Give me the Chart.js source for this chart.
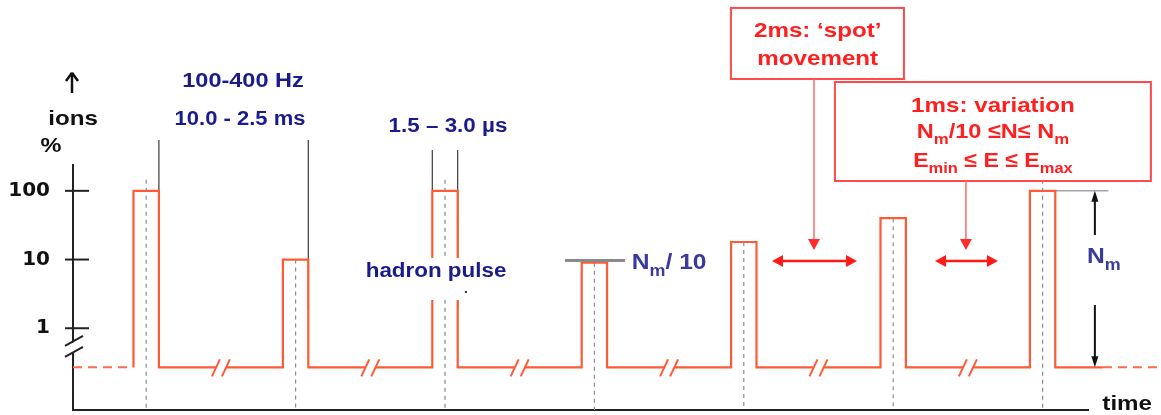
<!DOCTYPE html>
<html><head><meta charset="utf-8">
<script src="https://cdn.jsdelivr.net/npm/chart.js@4/dist/chart.umd.min.js"></script>
<style>html,body{margin:0;padding:0;background:#fff}#wrap{width:1161px;height:415px;position:relative}</style>
</head><body><div id="wrap"><canvas id="c"></canvas></div>
<script>
// ---------- data (schematic) ----------
const pulseCenters = [5, 15, 25, 35, 45, 55, 65];      // time (schematic units)
const pulseLevels  = [100, 10, 100, 9, 18, 40, 100];    // ions %
const pulseHalfWidth = 0.85;                            // half pulse duration
const baselineLevel = 0.27;                             // level below the axis break
const yTickValues = [100, 10, 1];
const yTickLabels = ['100', '10', '1'];
const timeMin = 0.1, timeMax = 68.04;
const baselineSolidEnd = 69.04, baselineDashEnd = 72.9;
const yMin = -1.19, yMax = 2.376;                       // in log10(%) units

// ---------- derived ----------
const L = v => Math.log10(v);
const base = L(baselineLevel);
const pulsePts = [];
pulseCenters.forEach((c, i) => {
  const a = c - pulseHalfWidth, b = c + pulseHalfWidth, l = L(pulseLevels[i]);
  pulsePts.push({x:a, y:base}, {x:a, y:l}, {x:b, y:l}, {x:b, y:base});
});
pulsePts.push({x: baselineSolidEnd, y: base});
const leftDash = [{x: timeMin, y: base}, {x: pulseCenters[0] - pulseHalfWidth, y: base}];
const rightDash = [{x: baselineSolidEnd, y: base}, {x: baselineDashEnd, y: base}];
const centerPts = [];
pulseCenters.forEach((c, i) => {
  const top = L(pulseLevels[i]) + (pulseLevels[i] >= 100 ? 0.16 : 0);
  centerPts.push({x:c, y:top}, {x:c, y:yMin}, {x:c, y:null});
});
// guide lines from the original slide: [pulse index, side, top (log), bottom (log)]
const guideSpecs = [[0, 1, 2.74, L(100)], [1, 1, 2.74, 0.266], [2, -1, 2.594, 2], [2, 1, 2.594, 0.266], [3, 1, L(9), 0.266], [5, 1, L(40), 0.266]];
const guidePts = [];
guideSpecs.forEach(([i, s, t, b]) => {
  const x = pulseCenters[i] + s * pulseHalfWidth;
  guidePts.push({x, y:t}, {x, y:b}, {x, y:null});
});
const nmLine = [{x: pulseCenters[6] + pulseHalfWidth, y: L(100)}, {x: 69.4, y: L(100)}];

// ---------- drawing helpers ----------
const FAM = '"Liberation Sans", Arial, sans-serif';
function rich(ctx, segs, x, y, o) {
  const size = o.size, sx = o.sx || 1.12;
  const fMain = `bold ${size}px ${FAM}`, fSub = `bold ${Math.round(size * 0.72)}px ${FAM}`;
  let w = 0;
  segs.forEach(s => { ctx.font = s.sub ? fSub : fMain; s.w = ctx.measureText(s.t).width; w += s.w; });
  ctx.save(); ctx.translate(x, y); ctx.scale(sx, 1);
  let cx = o.align === 'center' ? -w / 2 : (o.align === 'right' ? -w : 0);
  ctx.fillStyle = o.color; ctx.textAlign = 'left'; ctx.textBaseline = 'alphabetic';
  segs.forEach(s => { ctx.font = s.sub ? fSub : fMain; ctx.fillText(s.t, cx, s.sub ? size * 0.3 : 0); cx += s.w; });
  ctx.restore();
}
const T = t => [{t}];
function head(ctx, x, y, ang, len, half, color) {
  ctx.save(); ctx.fillStyle = color; ctx.translate(x, y); ctx.rotate(ang);
  ctx.beginPath(); ctx.moveTo(0, 0); ctx.lineTo(-len, -half); ctx.lineTo(-len, half); ctx.closePath(); ctx.fill();
  ctx.restore();
}
function line(ctx, x1, y1, x2, y2, color, w, dash) {
  ctx.save(); ctx.strokeStyle = color; ctx.lineWidth = w; ctx.setLineDash(dash || []);
  ctx.beginPath(); ctx.moveTo(x1, y1); ctx.lineTo(x2, y2); ctx.stroke(); ctx.restore();
}

const annot = {
  id: 'annot',
  afterDatasetsDraw(chart) {
    const ctx = chart.ctx, xs = chart.scales.x, ys = chart.scales.y;
    const X = t => xs.getPixelForValue(t), Y = v => ys.getPixelForValue(v);
    const ax = X(timeMin);
    const NAVY = '#1b1b8c', NM = '#3b3b9e', RED = '#ff1f1f';

    // y tick crosses
    yTickValues.forEach(v => line(ctx, ax - 8, Y(L(v)), ax + 16, Y(L(v)), '#222', 2));
    // y axis break
    const yb = Y(-0.258);
    ctx.save(); ctx.fillStyle = '#fff';
    ctx.beginPath(); ctx.moveTo(ax - 8, yb + 1); ctx.lineTo(ax + 10, yb - 9); ctx.lineTo(ax + 10, yb + 1); ctx.lineTo(ax - 8, yb + 11); ctx.closePath(); ctx.fill(); ctx.restore();
    line(ctx, ax - 8, yb, ax + 10, yb - 10, '#222', 2);
    line(ctx, ax - 8, yb + 11, ax + 10, yb + 1, '#222', 2);
    // up arrow above axis
    line(ctx, ax - 1, Y(3.424), ax - 1, Y(3.70), '#111', 2.5);
    line(ctx, ax - 7, Y(3.60), ax - 1, Y(3.72), '#111', 2.5);
    line(ctx, ax + 5, Y(3.60), ax - 1, Y(3.72), '#111', 2.5);

    // baseline breaks
    const by = Y(base);
    for (let i = 0; i < pulseCenters.length - 1; i++) {
      const cx = X((pulseCenters[i] + pulseCenters[i + 1]) / 2);
      ctx.fillStyle = '#fff'; ctx.fillRect(cx - 5, by - 3, 10, 6);
      line(ctx, cx - 9, by + 9, cx - 1, by - 8, '#ff5a36', 2);
      line(ctx, cx + 1, by + 9, cx + 9, by - 8, '#ff5a36', 2);
    }

    // hadron pulse label (white background)
    ctx.fillStyle = '#fff';
    ctx.fillRect(X(18.44), Y(1.022), X(33.16) - X(18.44), Y(0.411) - Y(1.022));
    rich(ctx, T('hadron pulse'), X(24.4), Y(0.746), {size: 20, color: NAVY, align: 'center'});
    ctx.fillStyle = '#333'; ctx.fillRect(X(26.4) - 1, Y(0.528) - 1, 2, 2);

    // Nm/10 marker
    line(ctx, X(33.03), Y(L(9) + 0.03), X(37.05), Y(L(9) + 0.03), '#8a8a8a', 3);
    rich(ctx, [{t:'N'}, {t:'m', sub:true}, {t:'/ 10'}], X(37.5), Y(0.862), {size: 22, color: NM, align: 'left'});

    // axis labels
    rich(ctx, T('ions'), ax, Y(2.958), {size: 21, color: '#111', align: 'center', sx: 1.15});
    rich(ctx, T('%'), X(-1.37), Y(2.565), {size: 21, color: '#111', align: 'center'});
    rich(ctx, T('time'), X(69.0), Y(yMin), {size: 21, color: '#111', align: 'left', sx: 1.15});

    // blue texts
    rich(ctx, T('100-400 Hz'), X(11.48), Y(3.512), {size: 21, color: NAVY, align: 'center'});
    rich(ctx, T('10.0 - 2.5 ms'), X(11.28), Y(2.958), {size: 20, color: NAVY, align: 'center', sx: 1.1});
    rich(ctx, T('1.5 \u2013 3.0 \u00b5s'), X(25.2), Y(2.857), {size: 20, color: NAVY, align: 'center'});

    // boxes
    ctx.save(); ctx.strokeStyle = '#ff4a4a'; ctx.lineWidth = 2;
    ctx.strokeRect(X(44.14), Y(4.662), X(55.72) - X(44.14), Y(3.628) - Y(4.662));
    ctx.strokeRect(X(51.1), Y(3.584), X(72.25) - X(51.1), Y(2.143) - Y(3.584));
    ctx.restore();
    rich(ctx, T('2ms: \u2018spot\u2019'), X(49.95), Y(4.24), {size: 21, color: RED, align: 'center', sx: 1.15});
    rich(ctx, T('movement'), X(49.95), Y(3.832), {size: 21, color: RED, align: 'center', sx: 1.15});
    rich(ctx, T('1ms: variation'), X(61.68), Y(3.148), {size: 21, color: RED, align: 'center', sx: 1.15});
    rich(ctx, [{t:'N'}, {t:'m', sub:true}, {t:'/10 \u2264N\u2264 N'}, {t:'m', sub:true}], X(61.68), Y(2.769), {size: 21, color: RED, align: 'center', sx: 1.12});
    rich(ctx, [{t:'E'}, {t:'min', sub:true}, {t:' \u2264 E \u2264 E'}, {t:'max', sub:true}], X(61.68), Y(2.347), {size: 21, color: RED, align: 'center', sx: 1.1});

    // vertical arrows from boxes
    [[49.7, 3.628], [59.87, 2.143]].forEach(([t, top]) => {
      line(ctx, X(t), Y(top), X(t), Y(1.139) - 9, '#ff6a6a', 1.5);
      head(ctx, X(t), Y(1.139), Math.PI / 2, 11, 6, '#ff2a2a');
    });
    // double arrows
    [[46.89, 52.58], [57.8, 62.01]].forEach(([a, b]) => {
      const y = Y(0.979);
      line(ctx, X(a) + 8, y, X(b) - 8, y, '#ff1a1a', 2.5);
      head(ctx, X(a), y, Math.PI, 11, 6, '#ff1a1a');
      head(ctx, X(b), y, 0, 11, 6, '#ff1a1a');
    });

    // Nm arrow
    const nx = X(68.5);
    line(ctx, nx, Y(2) + 8, nx, Y(1.357), '#111', 2);
    head(ctx, nx, Y(2), -Math.PI / 2, 11, 3.5, '#111');
    line(ctx, nx, Y(0.338), nx, Y(base) - 8, '#111', 2);
    head(ctx, nx, Y(base), Math.PI / 2, 11, 3.5, '#111');
    rich(ctx, [{t:'N'}, {t:'m', sub:true}], X(67.97), Y(0.95), {size: 22, color: NM, align: 'left'});
  }
};

new Chart(document.getElementById('c'), {
  type: 'line',
  data: {datasets: [
    {data: centerPts, borderColor: '#8c8c8c', borderWidth: 1.2, borderDash: [4, 4]},
    {data: pulsePts, borderColor: '#ff5a36', borderWidth: 2.2},
    {data: guidePts, borderColor: '#3a3a3a', borderWidth: 1.2},
    {data: nmLine, borderColor: '#777', borderWidth: 1},
    {data: leftDash, borderColor: '#ff6a4a', borderWidth: 2, borderDash: [9, 6]},
    {data: rightDash, borderColor: '#ff6a4a', borderWidth: 2, borderDash: [9, 6]}
  ]},
  options: {
    responsive: true, maintainAspectRatio: false, animation: false,
    layout: {padding: {left: 0, top: 165, right: 73, bottom: 0}},
    plugins: {legend: {display: false}, tooltip: {enabled: false}},
    elements: {point: {radius: 0}, line: {tension: 0, fill: false}},
    datasets: {line: {clip: false, spanGaps: false, pointRadius: 0}},
    scales: {
      x: {type: 'linear', min: timeMin, max: timeMax,
          grid: {display: false, drawTicks: false}, ticks: {display: false},
          border: {display: true, color: '#222', width: 2},
          afterFit: s => { s.height = 5; s.paddingLeft = 0; s.paddingRight = 0; }},
      y: {type: 'linear', min: yMin, max: yMax,
          grid: {display: false, drawTicks: false},
          border: {display: true, color: '#222', width: 2},
          ticks: {font: {family: 'DejaVu Sans', weight: 'bold', size: 20}, color: '#111', padding: 23, autoSkip: false,
                  callback: v => { const i = yTickValues.findIndex(t => Math.abs(L(t) - v) < 1e-6); return i >= 0 ? yTickLabels[i] : ''; }},
          afterBuildTicks: s => { s.ticks = yTickValues.map(v => ({value: L(v)})); },
          afterFit: s => { s.width = 73; s.paddingTop = 0; s.paddingBottom = 0; }}
    }
  },
  plugins: [annot]
});
</script></body></html>
